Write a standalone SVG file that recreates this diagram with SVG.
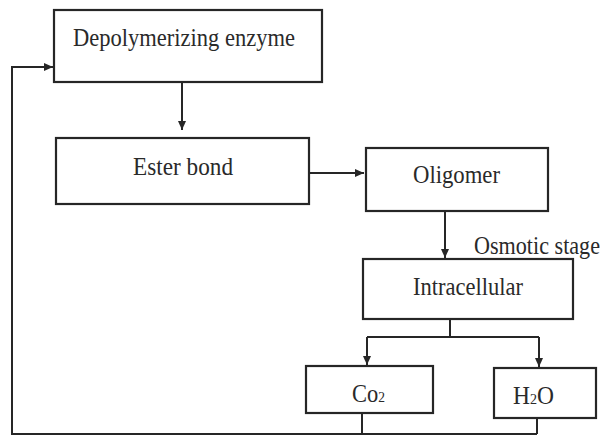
<svg xmlns="http://www.w3.org/2000/svg" width="603" height="444" viewBox="0 0 603 444">
<style>
.box{fill:#fff;stroke:#262626;stroke-width:2.2}
.ln{fill:none;stroke:#262626;stroke-width:2}
text{font-family:"Liberation Serif","Times New Roman",serif;font-size:25px;fill:#2a2a2a}
</style>
<defs>
<marker id="ah" markerWidth="10" markerHeight="10" refX="9" refY="5" orient="auto" markerUnits="userSpaceOnUse">
<path d="M0,1 L9,5 L0,9 Z" fill="#262626"/>
</marker>
</defs>
<rect width="603" height="444" fill="#fff"/>
<g id="connectors">
<path class="ln" d="M182,82 V130" marker-end="url(#ah)"/>
<path class="ln" d="M309,173 H364" marker-end="url(#ah)"/>
<path class="ln" d="M445,211 V258" marker-end="url(#ah)"/>
<path class="ln" d="M450,319 V337"/>
<path class="ln" d="M367,337 H539"/>
<path class="ln" d="M367,337 V365" marker-end="url(#ah)"/>
<path class="ln" d="M539,337 V367" marker-end="url(#ah)"/>
<path class="ln" d="M362,413 V434"/>
<path class="ln" d="M537,418 V434"/>
<path class="ln" d="M537,434 H12 V67 H53" marker-end="url(#ah)"/>
</g>
<g id="depolymerizing-enzyme">
<rect class="box" x="54" y="10" width="268" height="72"/>
<text x="73" y="46" textLength="222" lengthAdjust="spacingAndGlyphs">Depolymerizing enzyme</text>
</g>
<g id="ester-bond">
<rect class="box" x="56" y="138" width="253" height="66"/>
<text x="133" y="175" textLength="100" lengthAdjust="spacingAndGlyphs">Ester bond</text>
</g>
<g id="oligomer">
<rect class="box" x="366" y="148" width="182" height="63"/>
<text x="413" y="183" textLength="87" lengthAdjust="spacingAndGlyphs">Oligomer</text>
</g>
<g id="osmotic-label">
<text x="474" y="254" textLength="126" lengthAdjust="spacingAndGlyphs">Osmotic stage</text>
</g>
<g id="intracellular">
<rect class="box" x="363" y="259" width="210" height="60"/>
<text x="413" y="295" textLength="110" lengthAdjust="spacingAndGlyphs">Intracellular</text>
</g>
<g id="co2">
<rect class="box" x="306" y="366" width="127" height="47"/>
<text x="352" y="402" textLength="33" lengthAdjust="spacingAndGlyphs">Co<tspan font-size="15">2</tspan></text>
</g>
<g id="h2o">
<rect class="box" x="494" y="368" width="102" height="50"/>
<text x="513" y="404" textLength="41" lengthAdjust="spacingAndGlyphs">H<tspan font-size="15">2</tspan>O</text>
</g>
</svg>
